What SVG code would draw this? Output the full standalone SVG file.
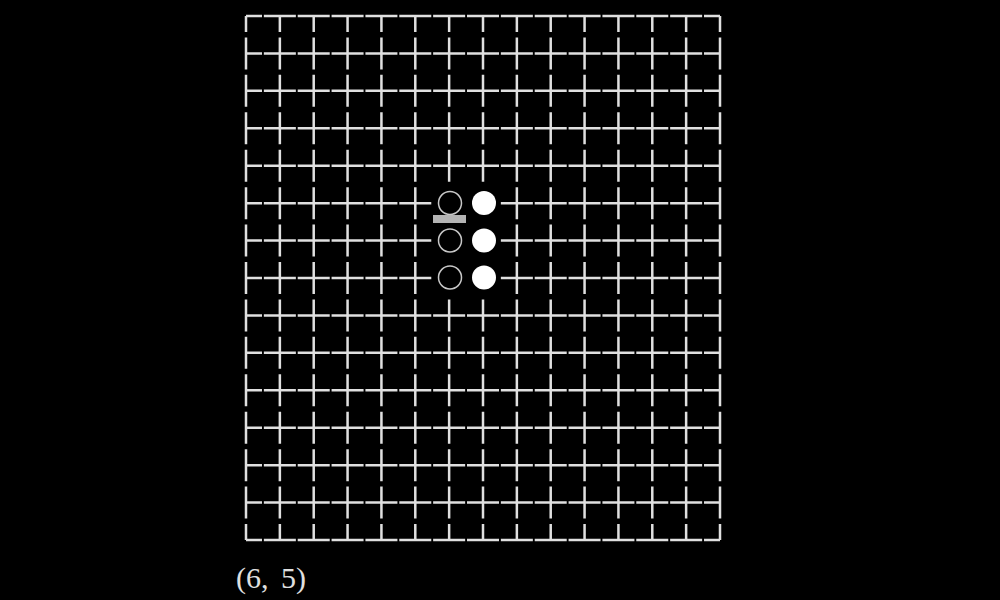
<svg xmlns="http://www.w3.org/2000/svg" width="1000" height="600" viewBox="0 0 1000 600">
<style>
.h{stroke:#e0e0e0;stroke-width:2.5;stroke-dasharray:32 1.857;stroke-dashoffset:16;fill:none}
.v{stroke:#e0e0e0;stroke-width:2.5;stroke-dasharray:32 5.4286;stroke-dashoffset:16;fill:none}
.hollow{fill:#000;stroke:#c8c8c8;stroke-width:1.5}
.filled{fill:#fff}
.lbl{font-family:"Liberation Serif","DejaVu Serif",serif;font-size:30px;fill:#e0e0e0}
</style>
<rect width="1000" height="600" fill="#000"/>
<g id="grid">
<path class="h" d="M246 16H720M246 53.43H720M246 90.86H720M246 128.29H720M246 165.71H720M246 203.14H720M246 240.57H720M246 278H720M246 315.43H720M246 352.86H720M246 390.29H720M246 427.71H720M246 465.14H720M246 502.57H720M246 540H720"/>
<path class="v" d="M246 16V540M279.86 16V540M313.71 16V540M347.57 16V540M381.43 16V540M415.29 16V540M449.14 16V540M483 16V540M516.86 16V540M550.71 16V540M584.57 16V540M618.43 16V540M652.29 16V540M686.14 16V540M720 16V540"/>
<rect x="433" y="186" width="67" height="108" fill="#000"/>
</g>
<g id="stones">
<circle class="hollow" cx="450" cy="203" r="11.5"/>
<circle class="hollow" cx="450" cy="240.5" r="11.5"/>
<circle class="hollow" cx="450" cy="277.5" r="11.5"/>
<circle class="filled" cx="484" cy="203" r="12"/>
<circle class="filled" cx="484" cy="240.5" r="12"/>
<circle class="filled" cx="484" cy="277.5" r="12"/>
<rect id="marker" x="433" y="215" width="33" height="8" fill="#b4b4b4"/>
</g>
<text class="lbl" y="588"><tspan x="236">(6,</tspan><tspan x="281">5)</tspan></text>
</svg>
